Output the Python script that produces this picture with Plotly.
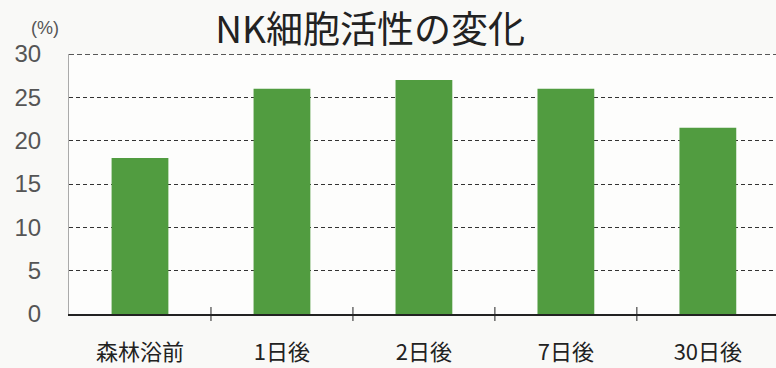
import plotly.graph_objects as go

categories = ["森林浴前", "1日後", "2日後", "7日後", "30日後"]
values = [18, 26, 27, 26, 21.5]
y_ticks = [0, 5, 10, 15, 20, 25, 30]

JP = "Noto Sans CJK JP"
NUM = "Liberation Sans, Arial, sans-serif"

fig = go.Figure()
fig.add_trace(go.Bar(
    x=list(range(len(categories))), y=values,
    marker=dict(color="#519c40", line=dict(width=0)),
    width=0.4,
))

fig.update_layout(
    width=776, height=368,
    margin=dict(l=69, r=0, t=54, b=54),
    paper_bgcolor="#f9f9f7", plot_bgcolor="#fdfdfc",
    showlegend=False,
    title=dict(text="NK細胞活性の変化", x=0.477, xanchor="center", y=0.918, yanchor="middle",
               font=dict(family=JP, size=37, color="#222")),
)
fig.update_xaxes(
    range=[-0.5, 4.48], tickmode="array", tickvals=list(range(len(categories))),
    ticktext=categories, tickfont=dict(family=JP, size=22, color="#222"),
    showgrid=False, showline=True, linecolor="#222", linewidth=1.5,
    ticks="", ticklabelstandoff=18,
)
# category boundary ticks
fig.add_trace(go.Scatter(
    x=[0.5, 1.5, 2.5, 3.5], y=[0, 0, 0, 0], mode="markers",
    marker=dict(symbol="line-ns", size=10, line=dict(color="#222", width=1)),
    hoverinfo="skip", cliponaxis=False,
))
fig.update_yaxes(
    range=[0, 30], tickvals=y_ticks, ticktext=[str(v) for v in y_ticks],
    tickfont=dict(family=NUM, size=24, color="#555"),
    showgrid=True, gridcolor="#333", griddash="4px,3px", gridwidth=1,
    showline=True, linecolor="#aaa", linewidth=1,
    zeroline=False, ticks="", ticklabelstandoff=22, layer="below traces",
)
# top gridline (30) drawn explicitly since it sits on the plot edge
fig.add_shape(type="line", xref="x domain", yref="y", x0=0, x1=1, y0=y_ticks[-1], y1=y_ticks[-1],
              line=dict(color="#222", width=1.3, dash="5px,3px"), layer="below")
fig.add_annotation(text="(%)", xref="paper", yref="paper", x=-0.034, y=1.1,
                   xanchor="center", yanchor="middle", showarrow=False,
                   font=dict(family=NUM, size=18, color="#555"))

fig.write_html("out.html")
